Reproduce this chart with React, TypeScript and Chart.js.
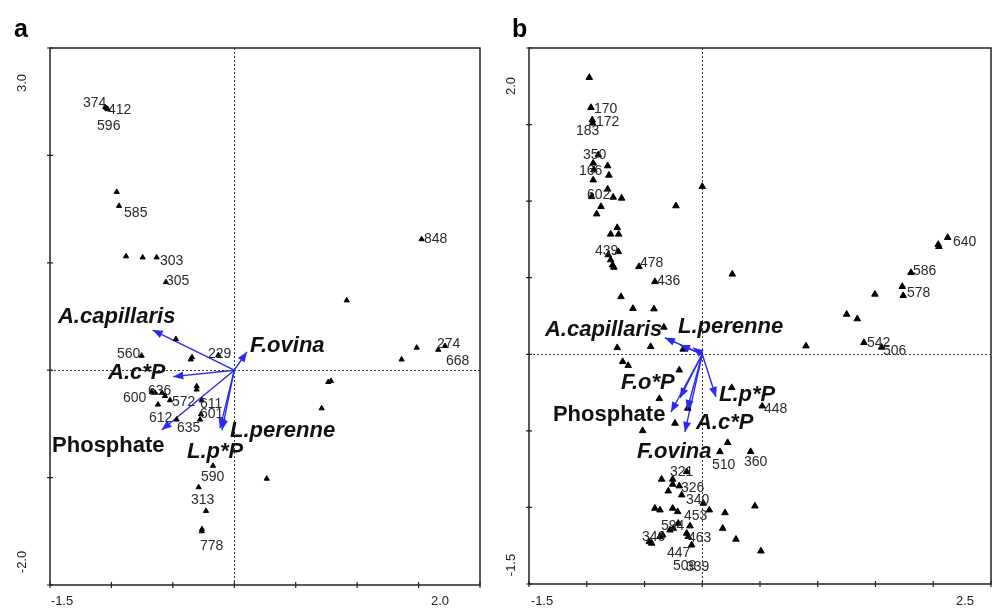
import { useEffect, useRef } from "react";
import { Chart, registerables } from "chart.js";
Chart.register(...registerables);

// ---------- Panel a data ----------
const pointsAX = [-1.05, -1.03, -1.04, -0.957, -0.938, -0.881, -0.746, -0.632, -0.556, -0.475, -0.754, -0.355, -0.344, -0.13,
  -0.672, -0.645, -0.588, -0.564, -0.523, -0.306, -0.306, -0.621, -0.265, -0.279, -0.271, -0.469, -0.173, -0.29, -0.23, -0.265, -0.263,
  1.525, 0.915, 1.485, 1.66, 1.715, 1.362, 0.765, 0.787, 0.711, 0.264];
const pointsAY = [2.45, 2.43, 2.44, 1.66, 1.53, 1.06, 1.05, 1.05, 0.82, 0.29, 0.135, 0.1, 0.12, 0.14,
  -0.2, -0.21, -0.21, -0.24, -0.28, -0.18, -0.15, -0.32, -0.28, -0.46, -0.41, -0.46, -0.89, -1.09, -1.31, -1.5, -1.48,
  1.22, 0.65, 0.21, 0.19, 0.225, 0.1, -0.11, -0.1, -0.355, -1.01];

const arrowsAX = [-0.664, -0.497, 0.103, -0.591, -0.1, -0.116];
const arrowsAY = [0.374, -0.06, 0.17, -0.557, -0.557, -0.54];

const varLabelsA = ["A.capillaris", "A.c*P", "F.ovina", "Phosphate", "L.perenne", "L.p*P"];
const varLabelsAX = [-1.435, -1.028, 0.128, -1.483, -0.035, -0.385];
const varLabelsAY = [0.495, -0.026, 0.225, -0.706, -0.566, -0.762];
const varItalicA = [true, true, true, false, true, true];

const siteLabelsA = ["374", "412", "596", "585", "303", "305", "560", "229", "600", "636", "572", "611", "601", "612", "635", "590", "313", "778", "848", "274", "668"];
const siteLabelsAX = [-1.231, -1.028, -1.117, -0.897, -0.605, -0.556, -0.955, -0.214, -0.906, -0.702, -0.507, -0.279, -0.279, -0.694, -0.466, -0.271, -0.352, -0.279, 1.544, 1.65, 1.723];
const siteLabelsAY = [2.488, 2.423, 2.274, 1.464, 1.017, 0.83, 0.151, 0.151, -0.259, -0.194, -0.296, -0.314, -0.408, -0.445, -0.538, -0.994, -1.209, -1.637, 1.221, 0.244, 0.086];

const axisA = { xMin: -1.5, xMax: 2.0, yMin: -2.0, yMax: 3.0, xStep: 0.5, yStep: 1.0 };
const axisLabelsA = { xMin: "-1.5", xMax: "2.0", yMin: "-2.0", yMax: "3.0" };

// ---------- Panel b data ----------
const pointsBX = [-0.978, -0.964, -0.952, -0.949, -0.9, -0.944, -0.938, -0.819, -0.808, -0.944, -0.819, -0.958, -0.771, -0.698, -0.877, -0.914,
  -0.228, 0.0, -0.736, -0.793, -0.724, -0.727, -0.814, -0.793, -0.776, -0.765, -0.548, -0.41, 0.26, -0.704, -0.6, -0.418, -0.332,
  -0.736, -0.447, -0.165, -0.689, -0.641, -0.199, 0.255, -0.372, 0.519, -0.126, -0.236, -0.516, 0.22, 0.153, 0.419,
  -0.135, -0.352, -0.256, -0.256, -0.199, -0.294, -0.178, 0.009, -0.41, -0.366, -0.256, -0.213, 0.061, 0.197, 0.456,
  -0.208, -0.251, -0.28, -0.106, 0.177, -0.459, -0.438, -0.366, -0.343, -0.135, -0.121, 0.292, -0.092, 0.508,
  2.125, 2.049, 2.043, 1.807, 1.732, 1.74, 1.495, 1.25, 1.342, 0.898, 1.4, 1.553];
const pointsBY = [1.807, 1.611, 1.53, 1.509, 1.302, 1.248, 1.204, 1.23, 1.169, 1.138, 1.078, 1.029, 1.025, 1.019, 0.964, 0.916,
  0.969, 1.095, 0.827, 0.784, 0.784, 0.67, 0.649, 0.616, 0.583, 0.568, 0.572, 0.474, 0.523, 0.376, 0.299, 0.296, 0.176,
  0.043, 0.05, 0.033, -0.048, -0.074, -0.103, -0.218, -0.29, -0.338, -0.353, -0.451, -0.499, -0.577, -0.636, -0.636,
  -0.767, -0.816, -0.816, -0.849, -0.86, -0.893, -0.919, -0.973, -1.006, -1.017, -1.006, -1.028, -1.017, -1.035, -0.991,
  -1.104, -1.137, -1.148, -1.121, -1.137, -1.224, -1.234, -1.191, -1.18, -1.169, -1.191, -1.208, -1.246, -1.285,
  0.762, 0.703, 0.717, 0.533, 0.442, 0.383, 0.392, 0.261, 0.231, 0.054, 0.076, 0.046];

const arrowsBX = [-0.323, -0.193, -0.078, -0.271, -0.193, -0.132, -0.15, 0.119];
const arrowsBY = [0.108, 0.061, 0.043, -0.377, -0.285, -0.364, -0.507, -0.279];

const varLabelsB = ["A.capillaris", "L.perenne", "F.o*P", "L.p*P", "Phosphate", "A.c*P", "F.ovina"];
const varLabelsBX = [-1.362, -0.21, -0.704, 0.145, -1.293, -0.055, -0.566];
const varLabelsBY = [0.159, 0.178, -0.188, -0.266, -0.396, -0.449, -0.638];
const varItalicB = [true, true, true, true, false, true, true];

const siteLabelsB = ["170", "172", "183", "350", "166", "602", "439", "478", "436", "640", "586", "578", "542", "506", "448", "510", "360",
  "321", "326", "340", "453", "594", "346", "463", "447", "509", "339"];
const siteLabelsBX = [-0.938, -0.92, -1.094, -1.033, -1.068, -0.998, -0.929, -0.539, -0.392, 2.171, 1.824, 1.772, 1.426, 1.565, 0.534, 0.084, 0.361,
  -0.28, -0.184, -0.141, -0.158, -0.358, -0.522, -0.124, -0.306, -0.254, -0.141];
const siteLabelsBY = [1.602, 1.517, 1.459, 1.302, 1.197, 1.041, 0.675, 0.596, 0.479, 0.734, 0.544, 0.4, 0.074, 0.022, -0.358, -0.721, -0.707,
  -0.769, -0.873, -0.951, -1.056, -1.121, -1.193, -1.2, -1.298, -1.383, -1.389];

const axisB = { xMin: -1.5, xMax: 2.5, yMin: -1.5, yMax: 2.0, xStep: 0.5, yStep: 0.5 };
const axisLabelsB = { xMin: "-1.5", xMax: "2.5", yMin: "-1.5", yMax: "2.0" };

const BLUE = "#2a2af2";
const FONT = "Arial, 'Liberation Sans', sans-serif";

type PanelCfg = {
  letter: string;
  axis: typeof axisA;
  axisLabels: typeof axisLabelsA;
  px: number[]; py: number[];
  ax: number[]; ay: number[];
  vl: string[]; vlx: number[]; vly: number[]; vli: boolean[];
  sl: string[]; slx: number[]; sly: number[];
  padding: { left: number; right: number; top: number; bottom: number };
  width: number;
  radius: number;
  lay: { xMinOff: number; xMaxOff: number; yMaxOff: number; yMinOff: number; yLabX: number; letterX: number };
};

function makePlugin(cfg: PanelCfg) {
  return {
    id: "biplot" + cfg.letter,
    beforeDatasetsDraw(chart: any) {
      const { ctx, chartArea: ca, scales } = chart;
      const x0 = scales.x.getPixelForValue(0);
      const y0 = scales.y.getPixelForValue(0);
      ctx.save();
      ctx.strokeStyle = "#333";
      ctx.lineWidth = 1;
      ctx.setLineDash([2, 2]);
      ctx.beginPath();
      ctx.moveTo(Math.round(x0) + 0.5, ca.top);
      ctx.lineTo(Math.round(x0) + 0.5, ca.bottom);
      ctx.moveTo(ca.left, Math.round(y0) + 0.5);
      ctx.lineTo(ca.right, Math.round(y0) + 0.5);
      ctx.stroke();
      ctx.restore();
    },
    afterDatasetsDraw(chart: any) {
      const { ctx, chartArea: ca, scales } = chart;
      const sx = scales.x, sy = scales.y;
      const ox = sx.getPixelForValue(0), oy = sy.getPixelForValue(0);
      ctx.save();
      // arrowheads
      ctx.fillStyle = BLUE;
      for (let i = 0; i < cfg.ax.length; i++) {
        const tx = sx.getPixelForValue(cfg.ax[i]);
        const ty = sy.getPixelForValue(cfg.ay[i]);
        const ang = Math.atan2(ty - oy, tx - ox);
        const L = 10, W = 4;
        ctx.beginPath();
        ctx.moveTo(tx, ty);
        ctx.lineTo(tx - L * Math.cos(ang) + W * Math.sin(ang), ty - L * Math.sin(ang) - W * Math.cos(ang));
        ctx.lineTo(tx - L * Math.cos(ang) - W * Math.sin(ang), ty - L * Math.sin(ang) + W * Math.cos(ang));
        ctx.closePath();
        ctx.fill();
      }
      // frame
      ctx.strokeStyle = "#222";
      ctx.lineWidth = 1.5;
      ctx.strokeRect(ca.left, ca.top, ca.right - ca.left, ca.bottom - ca.top);
      // ticks
      ctx.lineWidth = 1.2;
      ctx.beginPath();
      const a = cfg.axis;
      for (let v = a.xMin; v <= a.xMax + 1e-9; v += a.xStep) {
        const p = sx.getPixelForValue(v);
        ctx.moveTo(p, ca.bottom - 3);
        ctx.lineTo(p, ca.bottom + 3);
      }
      for (let v = a.yMin; v <= a.yMax + 1e-9; v += a.yStep) {
        const p = sy.getPixelForValue(v);
        ctx.moveTo(ca.left - 3, p);
        ctx.lineTo(ca.left + 3, p);
      }
      ctx.stroke();
      // axis end labels
      ctx.fillStyle = "#222";
      ctx.font = "13px " + FONT;
      ctx.textAlign = "center";
      ctx.textBaseline = "middle";
      ctx.fillText(cfg.axisLabels.xMin, ca.left + cfg.lay.xMinOff, 601);
      ctx.fillText(cfg.axisLabels.xMax, ca.right - cfg.lay.xMaxOff, 601);
      ctx.save();
      ctx.translate(cfg.lay.yLabX, ca.top + cfg.lay.yMaxOff);
      ctx.rotate(-Math.PI / 2);
      ctx.fillText(cfg.axisLabels.yMax, 0, 0);
      ctx.restore();
      ctx.save();
      ctx.translate(cfg.lay.yLabX, ca.bottom - cfg.lay.yMinOff);
      ctx.rotate(-Math.PI / 2);
      ctx.fillText(cfg.axisLabels.yMin, 0, 0);
      ctx.restore();
      // panel letter
      ctx.font = "bold 25px " + FONT;
      ctx.textAlign = "left";
      ctx.textBaseline = "alphabetic";
      ctx.fillStyle = "#000";
      ctx.fillText(cfg.letter, cfg.lay.letterX, 37);
      // site labels
      ctx.font = "14px " + FONT;
      ctx.fillStyle = "#2a2a2a";
      ctx.textBaseline = "middle";
      for (let i = 0; i < cfg.sl.length; i++) {
        ctx.fillText(cfg.sl[i], sx.getPixelForValue(cfg.slx[i]), sy.getPixelForValue(cfg.sly[i]));
      }
      // variable labels
      ctx.fillStyle = "#111";
      for (let i = 0; i < cfg.vl.length; i++) {
        ctx.font = (cfg.vli[i] ? "italic " : "") + "bold 22px " + FONT;
        ctx.fillText(cfg.vl[i], sx.getPixelForValue(cfg.vlx[i]), sy.getPixelForValue(cfg.vly[i]));
      }
      ctx.restore();
    },
  };
}

function Panel({ cfg, left }: { cfg: PanelCfg; left: number }) {
  const ref = useRef<HTMLCanvasElement>(null);
  useEffect(() => {
    if (!ref.current) return;
    const arrowSets = cfg.ax.map((x, i) => ({
      type: "scatter" as const,
      data: [{ x: 0, y: 0 }, { x, y: cfg.ay[i] }],
      showLine: true,
      borderColor: BLUE,
      borderWidth: 1.4,
      pointRadius: 0,
      order: 2,
    }));
    const chart = new Chart(ref.current, {
      type: "scatter",
      data: {
        datasets: [
          ...arrowSets,
          {
            data: cfg.px.map((x, i) => ({ x, y: cfg.py[i] })),
            pointStyle: "triangle",
            pointRadius: cfg.radius,
            backgroundColor: "#000",
            borderColor: "#000",
            borderWidth: 1,
            order: 1,
          } as any,
        ],
      },
      options: {
        animation: false,
        responsive: false,
        events: [],
        layout: { padding: cfg.padding, autoPadding: false },
        plugins: { legend: { display: false }, tooltip: { enabled: false } },
        scales: {
          x: { type: "linear", display: false, min: cfg.axis.xMin, max: cfg.axis.xMax },
          y: { type: "linear", display: false, min: cfg.axis.yMin, max: cfg.axis.yMax },
        },
      },
      plugins: [makePlugin(cfg)],
    });
    return () => chart.destroy();
  }, [cfg]);
  return (
    <canvas
      ref={ref}
      width={cfg.width}
      height={611}
      style={{ position: "absolute", left, top: 0, width: cfg.width, height: 611 }}
    />
  );
}

const cfgA: PanelCfg = {
  letter: "a", axis: axisA, axisLabels: axisLabelsA,
  px: pointsAX, py: pointsAY, ax: arrowsAX, ay: arrowsAY,
  vl: varLabelsA, vlx: varLabelsAX, vly: varLabelsAY, vli: varItalicA,
  sl: siteLabelsA, slx: siteLabelsAX, sly: siteLabelsAY,
  padding: { left: 50, right: 15, top: 48, bottom: 26 }, width: 495, radius: 3,
  lay: { xMinOff: 12, xMaxOff: 40, yMaxOff: 35, yMinOff: 23, yLabX: 22, letterX: 14 },
};
const cfgB: PanelCfg = {
  letter: "b", axis: axisB, axisLabels: axisLabelsB,
  px: pointsBX, py: pointsBY, ax: arrowsBX, ay: arrowsBY,
  vl: varLabelsB, vlx: varLabelsBX, vly: varLabelsBY, vli: varItalicB,
  sl: siteLabelsB, slx: siteLabelsBX, sly: siteLabelsBY,
  padding: { left: 34, right: 2, top: 48, bottom: 27 }, width: 498, radius: 3.8,
  lay: { xMinOff: 13, xMaxOff: 26, yMaxOff: 38, yMinOff: 19, yLabX: 16, letterX: 17 },
};

export default function App() {
  return (
    <div style={{ position: "absolute", left: 0, top: 0, width: 993, height: 611, background: "#fff" }}>
      <Panel cfg={cfgA} left={0} />
      <Panel cfg={cfgB} left={495} />
    </div>
  );
}
